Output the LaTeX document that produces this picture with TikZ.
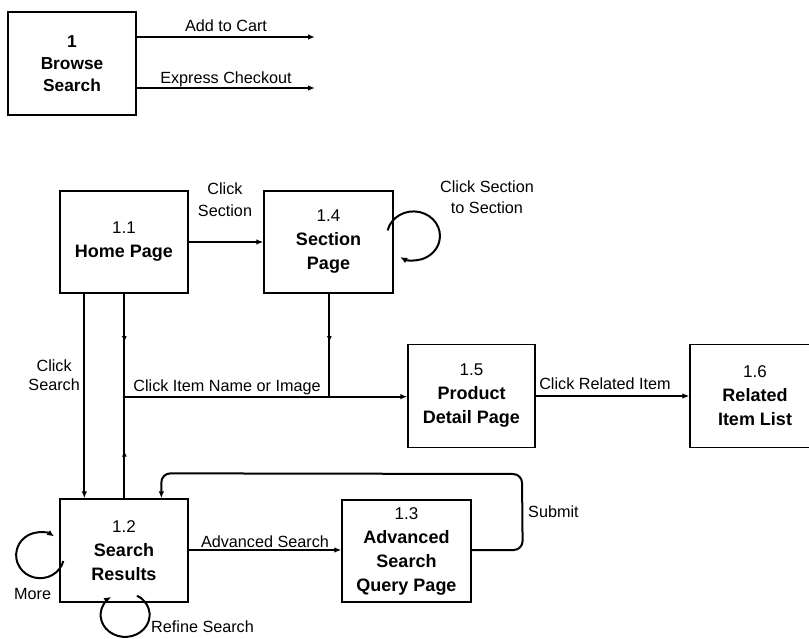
\documentclass[tikz,border=0pt]{standalone}
\usepackage{fontspec}
\setmainfont{Liberation Sans}
\usetikzlibrary{arrows.meta,calc,decorations.markings}
% small regular step number above the bold step title
\newcommand\procno[1]{{\mdseries\fontsize{17}{24}\selectfont #1}}
\begin{document}
\begin{tikzpicture}[x=1pt,y=1pt,
  proc/.style={draw, line width=1.3pt, rectangle, align=center, inner sep=0pt,
    minimum width=128pt, minimum height=102pt,
    font=\fontsize{18}{24}\selectfont\bfseries},
  conn/.style={line width=2pt, -{Latex[length=7pt,width=5.5pt]}},
  plainline/.style={line width=2pt},
  loopline/.style={line width=2pt, -{Latex[length=7pt,width=6pt]}},
  midarrow/.style={postaction={decorate}, decoration={markings,
    mark=at position #1 with {\arrow{Latex[length=6pt,width=5pt]}}}},
  lbl/.style={font=\fontsize{16.2}{19}\selectfont, inner sep=0pt, align=center},
]
\useasboundingbox (0,0) rectangle (809,-639);
\fill[white] (0,0) rectangle (809,-639);
\clip (0,0) rectangle (809,-639);

% ---- context process ----
\node[proc, minimum height=103pt, font=\fontsize{17.3}{22}\selectfont\bfseries]
  (n1) at (72,-63.5) {1\\Browse\\Search};
\coordinate (cart) at (315,-37);
\coordinate (xco)  at (315,-88);
\draw[conn] (cart -| n1.east) -- (cart);
\draw[conn] (xco -| n1.east) -- (xco);
\node[lbl, anchor=base] (lcart) at (226,-32) {Add to Cart};
\node[lbl, anchor=base] (lxco)  at (226,-84) {Express Checkout};

% ---- decomposed processes ----
\node[proc] (n11) at (124,-242)   {\procno{1.1}\\Home Page};
\node[proc, minimum width=129pt] (n14) at (328.5,-242) {\procno{1.4}\\Section\\Page};
\node[proc, minimum width=127pt, minimum height=103pt] (n15) at (471.5,-396) {\procno{1.5}\\Product\\Detail Page};
\node[proc, minimum width=130pt, minimum height=103pt] (n16) at (755,-396) {\procno{1.6}\\Related\\Item List};
\node[proc, minimum height=103pt] (n12) at (124,-550.5) {\procno{1.2}\\Search\\Results};
\node[proc, minimum width=129pt] (n13) at (406.5,-551) {\procno{1.3}\\Advanced\\Search\\Query Page};

% Home Page -> Section Page
\draw[conn] (n11.east) -- (n14.east -| n14.west);
\node[lbl, font=\fontsize{16.2}{22}\selectfont, anchor=base] (lsec) at (225,-217) {Click\\Section};

% Section to Section loop
\draw[loopline] ($(n14.east)+(-6,11.6)$)
  arc[start angle=167, end angle=-120, x radius=26.5pt, y radius=24.5pt];
\node[lbl, font=\fontsize{16.2}{21}\selectfont, anchor=base] (lsts) at (487,-214) {Click Section\\to Section};

% Home Page -> Search Results
\draw[conn] ($(n11.south west)+(25,0)$) -- ($(n12.north west)+(25,0)$);
\node[lbl, anchor=base east] (lcs) at (80,-390) {Click\\Search};

% item links into the product detail page
\coordinate (jn) at ($(n11.south west)+(65,-103)$);
\coordinate (js) at ($(n14.south west)+(66,-103)$);
\draw[plainline, midarrow=0.47] ($(n11.south west)+(65,0)$) -- (jn);
\draw[plainline, midarrow=0.47] ($(n12.north west)+(65,0)$) -- (jn);
\draw[plainline, midarrow=0.47] ($(n14.south west)+(66,0)$) -- (js);
\draw[conn] (jn) -- (jn -| n15.west);
\node[lbl, anchor=base] (lcin) at (227,-391) {Click Item Name or Image};

% Product Detail -> Related Item List
\draw[conn] (n15.east) -- (n16.west);
\node[lbl, anchor=base] (lcri) at (605,-389) {Click Related Item};

% Search Results -> Advanced Search Query Page
\coordinate (adv) at ($(n12.east)+(0,0.5)$);
\draw[conn] (adv) -- (adv -| n13.west);
\node[lbl, anchor=base] (ladv) at (265,-547) {Advanced Search};

% Submit back to Search Results
\coordinate (sb1) at (522,-474);
\coordinate (sb2) at ($(n12.north west)+(102,25)$);
\draw[conn, rounded corners=9pt] ($(n13.east)+(0,1)$) -- ($(n13.east)+(51,1)$) -- (sb1) -- (sb2)
  -- ($(n12.north west)+(102,0)$);
\node[lbl, anchor=base west] (lsub) at (528,-517) {Submit};

% More loop
\draw[loopline] ($(n12.west)+(4,-10.5)$)
  arc[start angle=-14.6, end angle=-305.7, x radius=24pt, y radius=23pt];
\node[lbl, anchor=base west] (lmore) at (14,-599) {More};

% Refine Search loop
\draw[loopline] ($(n12.south)+(13,7)$)
  arc[start angle=61, end angle=-235, x radius=24.5pt, y radius=22pt];
\node[lbl, anchor=base west] (lref) at (151,-632) {Refine Search};
\end{tikzpicture}
\end{document}
